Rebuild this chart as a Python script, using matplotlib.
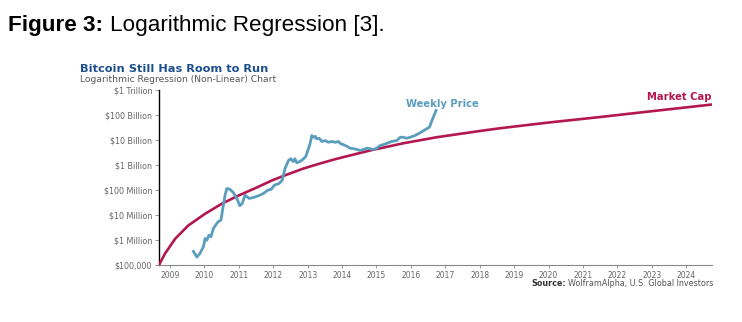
import matplotlib
matplotlib.use("Agg")
import matplotlib.pyplot as plt
from matplotlib.ticker import FixedLocator, NullLocator

# ---- data ----
price_years = [2009.68, 2009.78, 2009.87, 2009.97, 2010.02, 2010.07, 2010.13, 2010.19,
               2010.26, 2010.36, 2010.40, 2010.48, 2010.55, 2010.60, 2010.65, 2010.74,
               2010.84, 2010.94, 2011.03, 2011.10, 2011.18, 2011.30, 2011.42, 2011.57,
               2011.71, 2011.84, 2011.94, 2012.03, 2012.17, 2012.26, 2012.34, 2012.44,
               2012.51, 2012.58, 2012.63, 2012.68, 2012.78, 2012.88, 2012.95, 2013.07,
               2013.12, 2013.17, 2013.22, 2013.26, 2013.34, 2013.41, 2013.51, 2013.60,
               2013.70, 2013.80, 2013.89, 2013.96, 2014.04, 2014.14, 2014.23, 2014.33,
               2014.43, 2014.52, 2014.62, 2014.72, 2014.81, 2014.91, 2015.01, 2015.10,
               2015.20, 2015.44, 2015.59, 2015.69, 2015.78, 2015.88, 2015.98, 2016.12,
               2016.27, 2016.46, 2016.54, 2016.61, 2016.67, 2016.73]
# weekly price (market value, USD)
price_values = [3.5e5, 2.1e5, 2.9e5, 5.4e5, 1.15e6, 9.8e5, 1.55e6, 1.35e6,
                2.9e6, 4.6e6, 5.4e6, 6.2e6, 2.45e7, 6.2e7, 1.15e8, 1.07e8,
                7.9e7, 4.6e7, 2.35e7, 2.9e7, 6.2e7, 4.6e7, 5.0e7, 5.9e7,
                7.2e7, 9.8e7, 1.07e8, 1.55e8, 1.82e8, 2.45e8, 7.1e8, 1.51e9,
                1.78e9, 1.38e9, 1.78e9, 1.23e9, 1.38e9, 1.78e9, 2.24e9, 7.1e9,
                1.51e10, 1.29e10, 1.41e10, 1.12e10, 1.17e10, 8.7e9, 9.5e9, 8.1e9,
                8.7e9, 8.1e9, 8.7e9, 7.1e9, 6.5e9, 5.6e9, 4.7e9, 4.5e9,
                4.2e9, 3.8e9, 4.2e9, 4.7e9, 4.5e9, 4.2e9, 4.7e9, 6.0e9,
                6.5e9, 8.7e9, 9.5e9, 1.29e10, 1.29e10, 1.17e10, 1.29e10, 1.51e10,
                1.95e10, 2.82e10, 3.24e10, 6.0e10, 9.5e10, 1.51e11]

cap_years = [2008.68, 2008.85, 2009.15, 2009.53, 2010.02, 2010.50, 2010.99, 2011.47,
             2011.96, 2012.29, 2012.88, 2013.36, 2013.85, 2014.81, 2015.78, 2016.75,
             2018.00, 2018.59, 2020.00, 2021.50, 2022.86, 2024.75]
cap_values = [1.0e5, 2.8e5, 1.12e6, 3.8e6, 1.12e7, 2.8e7, 6.0e7, 1.17e8,
              2.4e8, 3.63e8, 7.24e8, 1.15e9, 1.78e9, 3.8e9, 7.4e9, 1.29e10,
              2.29e10, 2.95e10, 5.0e10, 8.3e10, 1.35e11, 2.63e11]

ytick_values = [1e5, 1e6, 1e7, 1e8, 1e9, 1e10, 1e11, 1e12]
ytick_labels = ["$100,000", "$1 Million", "$10 Million", "$100 Million",
                "$1 Billion", "$10 Billion", "$100 Billion", "$1 Trillion"]
xtick_years = list(range(2009, 2025))

BLUE = "#5a9dbf"
RED = "#b3174f"

fig = plt.figure(figsize=(7.42, 3.22), dpi=100)
fig.patch.set_facecolor("white")
ax = fig.add_axes([159 / 742, 1 - 265 / 322, (712 - 159) / 742, (265 - 90) / 322])

ax.plot(cap_years, cap_values, color=RED, lw=1.9, solid_capstyle="round",
        solid_joinstyle="round", zorder=3)
ax.plot(price_years, price_values, color=BLUE, lw=2.0, solid_joinstyle="round", zorder=4)

ax.set_yscale("log")
ax.set_ylim(1e5, 1e12)
ax.set_xlim(2008.68, 2024.75)
ax.yaxis.set_major_locator(FixedLocator(ytick_values))
ax.yaxis.set_minor_locator(NullLocator())
ax.set_yticks(ytick_values)
ax.set_yticklabels(ytick_labels)
ax.set_xticks(xtick_years)
ax.set_xticklabels([str(y) for y in xtick_years])

for s in ["top", "right"]:
    ax.spines[s].set_visible(False)
ax.spines["left"].set_color("black")
ax.spines["left"].set_linewidth(1.0)
ax.spines["bottom"].set_color("#888888")
ax.spines["bottom"].set_linewidth(0.8)
ax.tick_params(axis="y", direction="out", length=3, width=0.6, color="#888888",
               labelsize=5.8, labelcolor="#666666", pad=2)
ax.tick_params(axis="x", direction="out", length=2.5, width=0.6, color="#888888",
               labelsize=5.5, labelcolor="#666666", pad=1.5)

# figure caption
fig.text(8 / 742, 1 - 25 / 322, "Figure 3:", fontsize=16.2, fontweight="bold",
         family="Liberation Sans", va="center", ha="left")
fig.text(110 / 742, 1 - 25 / 322, "Logarithmic Regression [3].", fontsize=16.2,
         family="Liberation Sans", va="center", ha="left")

# chart titles
fig.text(80 / 742, 1 - 68.5 / 322, "Bitcoin Still Has Room to Run", fontsize=8.2,
         fontweight="heavy", color="#1d4f8f", family="DejaVu Sans", va="center", ha="left")
fig.text(80 / 742, 1 - 80 / 322, "Logarithmic Regression (Non-Linear) Chart", fontsize=6.6,
         color="#555555", family="DejaVu Sans", va="center", ha="left")

# series labels
fig.text(442 / 742, 1 - 104.5 / 322, "Weekly Price", fontsize=7.2, fontweight="bold",
         color=BLUE, family="DejaVu Sans", va="center", ha="center")
fig.text(679.5 / 742, 1 - 97.5 / 322, "Market Cap", fontsize=7.2, fontweight="bold",
         color=RED, family="DejaVu Sans", va="center", ha="center")

# source line
t1 = fig.text(713 / 742, 1 - 283 / 322, "WolframAlpha, U.S. Global Investors", fontsize=5.8,
              color="#555555", family="DejaVu Sans", va="center", ha="right")
fig.canvas.draw()
bb = t1.get_window_extent()
fig.text(bb.x0 / fig.bbox.width - 2 / 742, 1 - 283 / 322, "Source:", fontsize=5.8,
         fontweight="bold", color="#333333", family="DejaVu Sans", va="center", ha="right")

fig.savefig("out.png", dpi=100, facecolor="white")
